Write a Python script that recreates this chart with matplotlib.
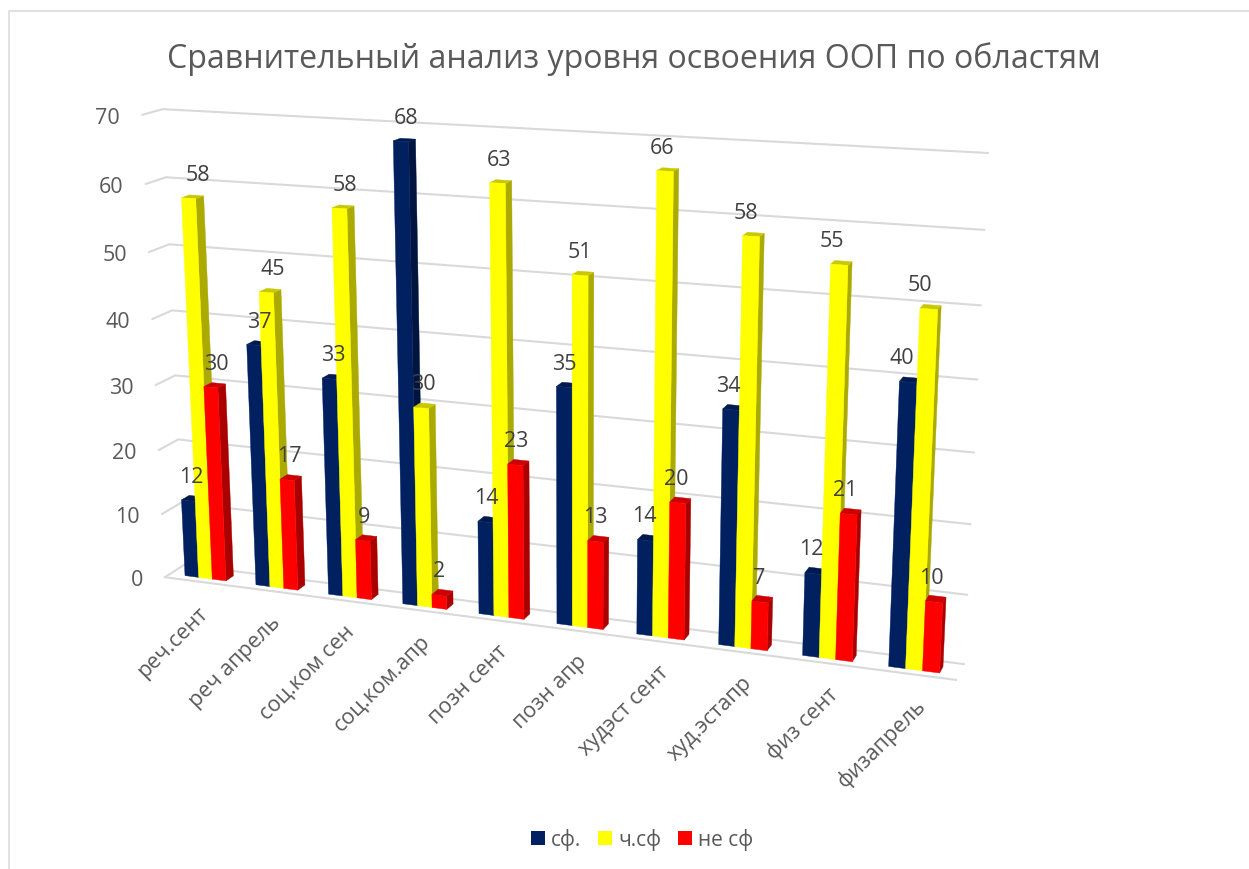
import numpy as np
import matplotlib
matplotlib.use("Agg")
import matplotlib.pyplot as plt
from matplotlib.patches import Polygon, Patch

plt.rcParams['font.family'] = ['Open Sans', 'DejaVu Sans']

title = "Сравнительный анализ уровня освоения ООП по областям"
categories = ["реч.сент", "реч апрель", "соц.ком сен", "соц.ком.апр", "позн сент",
              "позн апр", "худэст сент", "худ.эстапр", "физ сент", "физапрель"]
series_names = ["сф.", "ч.сф", "не сф"]
sf = [12, 37, 33, 68, 14, 35, 14, 34, 12, 40]
ch_sf = [58, 45, 58, 30, 63, 51, 66, 58, 55, 50]
ne_sf = [30, 17, 9, 2, 23, 13, 20, 7, 21, 10]
y_ticks = [0, 10, 20, 30, 40, 50, 60, 70]

# front, side, top colours per series
colors = [("#002060", "#001440", "#001a50"),
          ("#ffff00", "#aaaa00", "#c8c800"),
          ("#ff0000", "#aa0000", "#cc0000")]
grid_color = "#d9d9d9"
text_color = "#595959"
label_color = "#404040"

# camera: fitted on the corners of the chart box (x in categories, value, depth 0-1)
n = len(categories)
box = [((0, 0, 0), (165, 578)), ((n, 0, 0), (956, 681)),
       ((0, 0, 1), (184, 566)), ((n, 0, 1), (964, 665)),
       ((0, 70, 0), (142, 116)), ((0, 70, 1), (163, 110)),
       ((n, 70, 1), (988, 154))]
rows, rhs = [], []
for (X, Y, Z), (u, v) in box:
    rows.append([X, Y, Z, 1, 0, 0, 0, 0, -u * X, -u * Y, -u * Z])
    rows.append([0, 0, 0, 0, X, Y, Z, 1, -v * X, -v * Y, -v * Z])
    rhs += [u, v]
cam = np.linalg.lstsq(np.array(rows, float), np.array(rhs, float), rcond=None)[0]
cam = np.append(cam, 1.0).reshape(3, 4)


def project(x, val, d):
    p = cam @ np.array([x, val, d, 1.0])
    return p[0] / p[2], p[1] / p[2]


fig = plt.figure(figsize=(12.49, 8.7), dpi=100)
ax = fig.add_axes([0, 0, 1, 1])
ax.set_xlim(0, 1249)
ax.set_ylim(870, 0)
ax.axis("off")

# outer frame of the chart
ax.plot([9.5, 9.5, 1249], [870, 11.5, 11.5], color="#dedede", lw=1.3)

ax.text(634, 59.5, title, ha="center", va="center", fontsize=23.1, color=text_color)

# walls and gridlines
for t in y_ticks:
    pts = [project(0, t, 0), project(0, t, 1), project(n, t, 1)]
    ax.plot(*zip(*pts), color=grid_color, lw=1.5, solid_capstyle="round", zorder=1)
    fx, fy = pts[0]
    ax.text(fx - 22, fy + 2.5, str(t), ha="right", va="center", fontsize=15.5, color=text_color)
ax.plot(*zip(project(0, 0, 0), project(n, 0, 0)), color=grid_color, lw=1.5, zorder=1)

group = 0.58
bar_w = group / 3
d0, d1 = 0.28, 0.68
z = 2
for i in range(n):
    for s, values in enumerate([sf, ch_sf, ne_sf]):
        v = values[i]
        x0 = i + (1 - group) / 2 + s * bar_w
        x1 = x0 + bar_w
        c_front, c_side, c_top = colors[s]
        side = [project(x1, 0, d0), project(x1, 0, d1), project(x1, v, d1), project(x1, v, d0)]
        top = [project(x0, v, d0), project(x1, v, d0), project(x1, v, d1), project(x0, v, d1)]
        front = [project(x0, 0, d0), project(x1, 0, d0), project(x1, v, d0), project(x0, v, d0)]
        for poly, col in [(side, c_side), (top, c_top), (front, c_front)]:
            ax.add_patch(Polygon(poly, closed=True, facecolor=col, edgecolor=col, lw=0.3, zorder=z))
            z += 1

for i in range(n):
    for s, values in enumerate([sf, ch_sf, ne_sf]):
        v = values[i]
        xc = i + (1 - group) / 2 + (s + 0.5) * bar_w
        tx, ty = project(xc, v, (d0 + d1) / 2)
        dx = -3 - 0.022 * (tx - 560) * v / 55
        ax.text(tx + dx, ty - 22, str(v), ha="center", va="center", fontsize=15.5,
                color=label_color, zorder=500)
    lx, ly = project(i + 0.5, 0, 0)
    ax.text(lx - 3 + 0.7 * i, ly + 20, categories[i], rotation=45, rotation_mode="anchor", ha="right", va="top",
            fontsize=15.5, color=text_color, zorder=500)

handles = [Patch(facecolor=colors[s][0], label=series_names[s]) for s in range(3)]
ax.legend(handles=handles, loc="center", bbox_to_anchor=(642, 840), bbox_transform=ax.transData,
          ncol=3, frameon=False, fontsize=15, handlelength=0.68, handleheight=0.68,
          handletextpad=0.3, columnspacing=0.8, labelcolor=text_color)

fig.savefig("out.png", dpi=100)
